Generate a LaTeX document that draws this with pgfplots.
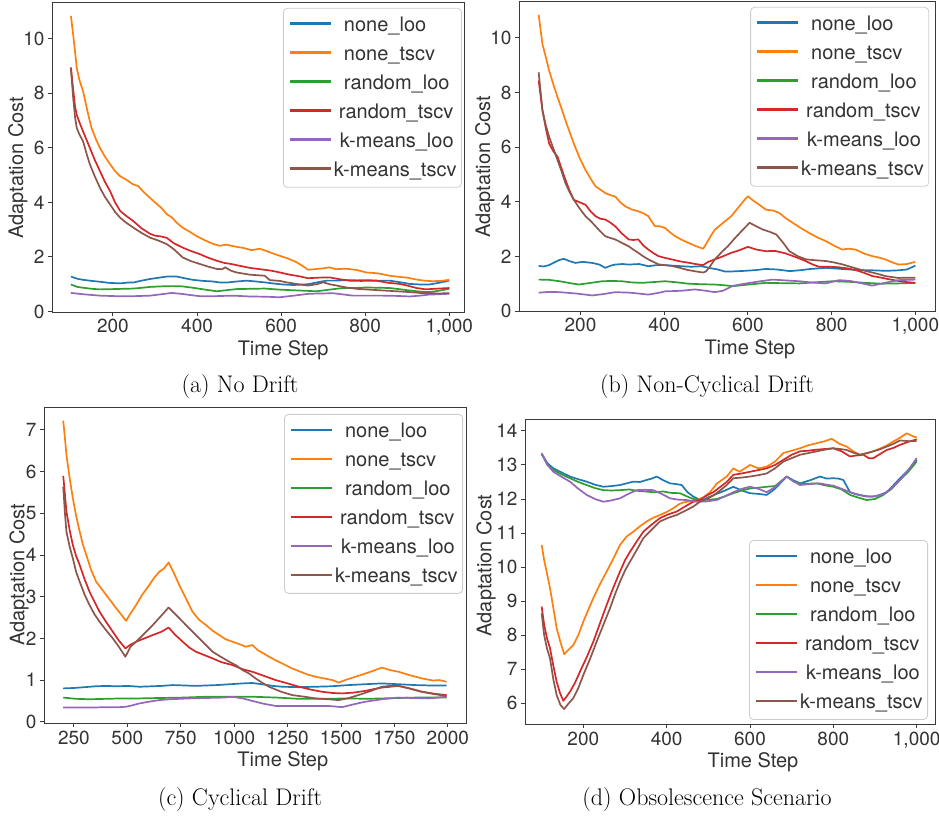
\documentclass[border=0pt]{standalone}
\usepackage{fontspec}
\usepackage{pgfplots}
\pgfplotsset{compat=1.18}
\newfontfamily\heros{TeX Gyre Heros}
\definecolor{C0}{HTML}{1F77B4}
\definecolor{C1}{HTML}{FF7F0E}
\definecolor{C2}{HTML}{2CA02C}
\definecolor{C3}{HTML}{D62728}
\definecolor{C4}{HTML}{9467BD}
\definecolor{C5}{HTML}{8C564B}
\definecolor{axgray}{HTML}{3A3A3A}
\definecolor{txtgray}{HTML}{333333}
\definecolor{leggray}{HTML}{CCCCCC}
\newcommand{\tickfont}{\heros\fontsize{19bp}{22bp}\selectfont}
\newcommand{\labfont}{\heros\fontsize{20bp}{24bp}\selectfont}
\pgfplotsset{
  panel/.style={
    scale only axis,
    axis line style={draw=axgray, line width=1bp},
    tick style={draw=axgray, line width=1bp},
    tick align=outside, major tick length=4bp,
    xtick pos=bottom, ytick pos=left,
    /pgf/number format/assume math mode=true,
    tick label style={font=\tickfont, text=txtgray},
    legend cell align=left,
    legend style={font=\labfont, text=txtgray,
      draw=leggray, line width=0.8bp, rounded corners=4bp, fill=white, fill opacity=0.8, text opacity=1, draw opacity=1,
      inner xsep=5bp, inner ysep=3.5bp, row sep=2bp, column sep=2bp,
      nodes={inner sep=0pt, text height=20bp, text depth=7bp}},
    legend image code/.code={\draw[#1, line width=2.6bp, line cap=butt] (0bp,1.5bp) -- (41bp,1.5bp);},
    every axis plot/.append style={line width=1.7bp, line join=round},
    xlabel={Time Step}, ylabel={Adaptation Cost},
  }
}
\newcommand{\legs}{%
  \addlegendentry{\hspace*{10bp}none\_loo}
  \addlegendentry{\hspace*{10bp}none\_tscv}
  \addlegendentry{\hspace*{10bp}random\_loo}
  \addlegendentry{\hspace*{5bp}random\_tscv}
  \addlegendentry{\hspace*{6bp}k-means\_loo}
  \addlegendentry{k-means\_tscv}}
\begin{document}
\begin{tikzpicture}
\path[use as bounding box] (0bp,0bp) rectangle (939bp,-819bp);
% ---------------- (a) No Drift
\begin{axis}[panel, at={(52bp,-312bp)}, anchor=south west, width=412bp, height=310bp,
  xmin=55, xmax=1035, ymin=-0.02, ymax=11.35,
  xtick={200,400,600,800,1000}, xticklabels={200,400,600,800,{1,000}},
  ytick={0,2,4,6,8,10}, yticklabels={0,2,4,6,8,10},
  every axis x label/.style={at={(axis description cs:0.561,-0.123)}, anchor=center, font=\labfont, text=txtgray},
  every axis y label/.style={at={(axis description cs:-0.083,0.465)}, rotate=90, anchor=center, font=\labfont, text=txtgray},
  legend style={at={(axis description cs:0.995,0.981)}, anchor=north east}]
\addplot[C0] coordinates {(100,1.28)(115,1.2)(129,1.16)(150,1.12)(169,1.09)(190,1.05)(217,1.03)(235,1.06)(248,1.06)(265,1.12)(288,1.19)(310,1.24)(328,1.28)(352,1.28)(370,1.22)(390,1.16)(415,1.12)(438,1.1)(455,1.06)(470,1.06)(495,1.1)(518,1.13)(540,1.1)(565,1.06)(585,1.02)(604,0.99)(630,0.97)(664,1.0)(690,1.08)(708,1.13)(730,1.13)(755,1.15)(780,1.14)(803,1.15)(830,1.13)(858,1.13)(880,1.08)(906,1.01)(930,0.99)(953,0.99)(975,1.05)(1000,1.13)};
\addplot[C1] coordinates {(100,10.84)(105,10.2)(110,9.5)(114,8.92)(120,8.5)(129,8.07)(140,7.3)(149,6.73)(160,6.3)(169,6.0)(180,5.7)(193,5.4)(205,5.15)(217,4.96)(230,4.85)(248,4.66)(260,4.6)(275,4.35)(288,4.17)(300,4.0)(315,3.8)(328,3.57)(340,3.45)(352,3.25)(366,3.07)(380,2.95)(395,2.8)(407,2.7)(420,2.6)(438,2.48)(454,2.41)(470,2.45)(494,2.37)(510,2.33)(530,2.25)(549,2.30)(565,2.22)(580,2.13)(597,2.04)(615,1.95)(635,1.82)(650,1.68)(664,1.53)(680,1.55)(700,1.58)(715,1.62)(730,1.55)(755,1.57)(780,1.52)(803,1.43)(830,1.40)(858,1.31)(880,1.27)(900,1.24)(922,1.17)(940,1.13)(960,1.11)(980,1.12)(1000,1.16)};
\addplot[C2] coordinates {(100,0.99)(115,0.9)(129,0.87)(150,0.83)(169,0.81)(200,0.82)(248,0.84)(270,0.87)(288,0.9)(315,0.92)(340,0.93)(365,0.92)(390,0.87)(420,0.8)(447,0.74)(470,0.78)(494,0.82)(525,0.83)(561,0.84)(597,0.80)(640,0.77)(684,0.74)(715,0.8)(747,0.86)(775,0.86)(803,0.88)(830,0.87)(858,0.86)(880,0.82)(906,0.77)(930,0.73)(953,0.71)(975,0.76)(1000,0.83)};
\addplot[C3] coordinates {(100,8.95)(105,8.2)(110,7.5)(114,7.2)(120,6.95)(129,6.6)(137,6.3)(145,6.0)(157,5.55)(169,5.15)(181,4.75)(193,4.42)(205,4.0)(217,3.69)(232,3.5)(248,3.32)(268,3.05)(288,2.85)(300,2.78)(315,2.75)(328,2.7)(345,2.5)(366,2.34)(385,2.22)(407,2.1)(425,1.98)(447,1.86)(465,1.78)(478,1.75)(500,1.68)(525,1.6)(550,1.55)(575,1.5)(597,1.43)(620,1.35)(640,1.3)(664,1.22)(690,1.24)(715,1.25)(740,1.18)(763,1.13)(790,1.12)(826,1.13)(855,1.05)(882,1.01)(900,0.95)(922,0.86)(940,0.82)(953,0.82)(975,0.84)(1000,0.86)};
\addplot[C4] coordinates {(100,0.68)(130,0.63)(169,0.58)(210,0.56)(248,0.56)(288,0.58)(315,0.63)(340,0.68)(366,0.64)(385,0.6)(407,0.56)(440,0.56)(486,0.58)(525,0.55)(565,0.54)(596,0.52)(630,0.58)(667,0.65)(700,0.66)(723,0.67)(750,0.62)(771,0.58)(800,0.58)(842,0.58)(875,0.57)(906,0.55)(930,0.58)(953,0.62)(975,0.63)(1000,0.65)};
\addplot[C5] coordinates {(100,8.9)(105,7.9)(110,7.1)(114,6.73)(120,6.5)(129,6.24)(137,5.8)(145,5.4)(157,4.95)(169,4.54)(181,4.2)(193,3.93)(205,3.65)(217,3.44)(232,3.25)(248,3.08)(268,2.88)(288,2.71)(308,2.6)(328,2.47)(345,2.28)(366,1.98)(385,1.85)(407,1.74)(425,1.65)(447,1.56)(460,1.55)(467,1.62)(480,1.5)(494,1.43)(525,1.35)(561,1.31)(573,1.15)(597,1.12)(612,1.07)(640,1.0)(664,0.95)(685,1.0)(700,1.07)(715,1.0)(732,0.95)(755,0.88)(780,0.83)(810,0.8)(842,0.77)(875,0.74)(906,0.71)(930,0.68)(953,0.67)(975,0.66)(1000,0.67)};
\legs
\end{axis}
% ---------------- (b) Non-Cyclical Drift
\begin{axis}[panel, at={(519bp,-311bp)}, anchor=south west, width=416bp, height=310bp,
  xmin=53, xmax=1047, ymin=0, ymax=11.35,
  xtick={200,400,600,800,1000}, xticklabels={200,400,600,800,{1,000}},
  ytick={0,2,4,6,8,10}, yticklabels={0,2,4,6,8,10},
  every axis x label/.style={at={(axis description cs:0.555,-0.124)}, anchor=center, font=\labfont, text=txtgray},
  every axis y label/.style={at={(axis description cs:-0.082,0.465)}, rotate=90, anchor=center, font=\labfont, text=txtgray},
  legend style={at={(axis description cs:0.986,0.981)}, anchor=north east}]
\addplot[C0] coordinates {(100,1.65)(112,1.63)(125,1.68)(140,1.8)(150,1.87)(160,1.91)(175,1.82)(188,1.76)(205,1.8)(228,1.76)(245,1.7)(259,1.58)(272,1.66)(283,1.7)(300,1.72)(315,1.7)(340,1.72)(362,1.64)(382,1.68)(402,1.68)(420,1.66)(441,1.64)(465,1.62)(489,1.64)(510,1.57)(528,1.52)(544,1.45)(564,1.45)(592,1.47)(620,1.5)(643,1.54)(670,1.52)(700,1.46)(723,1.49)(750,1.54)(786,1.58)(815,1.55)(841,1.52)(870,1.5)(897,1.49)(930,1.47)(960,1.49)(980,1.52)(1000,1.66)};
\addplot[C1] coordinates {(100,10.84)(109,9.77)(117,9.3)(125,8.8)(135,8.3)(145,7.83)(155,7.4)(164,6.98)(174,6.55)(184,6.13)(198,5.6)(212,5.16)(224,4.85)(236,4.56)(247,4.45)(259,4.32)(270,4.25)(283,4.19)(295,3.98)(307,3.83)(322,3.72)(338,3.65)(350,3.58)(362,3.47)(370,3.28)(378,3.1)(390,3.1)(402,3.04)(414,2.88)(426,2.74)(440,2.62)(457,2.5)(475,2.38)(493,2.28)(500,2.45)(510,2.72)(521,2.98)(540,3.22)(560,3.47)(575,3.75)(592,4.07)(600,4.2)(612,4.05)(628,3.88)(643,3.71)(660,3.68)(675,3.59)(690,3.4)(707,3.23)(725,3.05)(746,2.86)(765,2.7)(786,2.56)(805,2.4)(825,2.25)(840,2.28)(857,2.25)(878,2.1)(897,2.01)(912,1.96)(928,1.89)(945,1.78)(960,1.7)(980,1.72)(1000,1.8)};
\addplot[C2] coordinates {(100,1.15)(125,1.14)(150,1.09)(175,1.02)(196,0.97)(220,1.02)(252,1.09)(275,1.1)(299,1.09)(320,1.05)(346,1.03)(375,1.06)(402,1.09)(430,1.05)(457,1.0)(490,0.98)(520,0.97)(545,0.94)(564,0.91)(590,0.95)(615,0.99)(643,1.03)(680,1.02)(723,1.01)(760,1.05)(802,1.09)(840,1.07)(881,1.03)(920,1.0)(960,1.01)(1000,1.03)};
\addplot[C3] coordinates {(100,8.44)(109,7.35)(117,6.7)(125,6.13)(135,5.85)(145,5.65)(155,5.2)(164,4.8)(174,4.4)(184,4.07)(198,3.98)(212,3.89)(224,3.65)(236,3.47)(247,3.38)(259,3.35)(270,3.25)(283,3.1)(298,2.85)(315,2.62)(326,2.6)(338,2.62)(350,2.4)(362,2.25)(374,2.12)(386,2.01)(400,1.95)(418,1.89)(437,1.82)(457,1.77)(475,1.72)(493,1.68)(505,1.8)(521,1.89)(540,2.0)(560,2.13)(575,2.2)(592,2.3)(600,2.35)(620,2.25)(643,2.19)(665,2.2)(690,2.11)(715,1.97)(738,1.83)(755,1.7)(770,1.62)(795,1.62)(818,1.6)(838,1.56)(857,1.5)(877,1.4)(897,1.28)(912,1.24)(928,1.19)(945,1.14)(960,1.1)(980,1.06)(1000,1.03)};
\addplot[C4] coordinates {(100,0.67)(125,0.7)(150,0.69)(190,0.64)(228,0.57)(255,0.62)(283,0.69)(320,0.67)(362,0.6)(385,0.66)(402,0.72)(440,0.74)(473,0.79)(500,0.74)(520,0.69)(540,0.74)(564,0.92)(585,0.98)(604,1.03)(630,1.09)(659,1.15)(690,1.12)(723,1.09)(755,1.04)(786,1.01)(818,1.13)(845,1.1)(870,1.02)(897,0.93)(930,1.04)(960,1.13)(1000,1.15)};
\addplot[C5] coordinates {(100,8.74)(109,7.35)(117,6.8)(125,6.38)(135,5.95)(145,5.53)(155,5.1)(164,4.68)(174,4.35)(184,4.07)(198,3.75)(212,3.47)(224,3.3)(236,3.1)(247,2.92)(259,2.74)(270,2.68)(283,2.62)(298,2.5)(315,2.37)(326,2.25)(338,2.13)(350,2.0)(362,1.89)(374,1.8)(386,1.71)(400,1.68)(418,1.65)(437,1.58)(457,1.5)(475,1.45)(493,1.41)(500,1.45)(510,1.65)(521,1.89)(540,2.2)(552,2.37)(565,2.6)(580,2.85)(592,3.04)(604,3.23)(620,3.1)(636,2.98)(652,2.9)(668,2.8)(684,2.5)(699,2.19)(720,2.0)(739,1.89)(760,1.86)(786,1.83)(805,1.78)(825,1.71)(845,1.62)(865,1.53)(880,1.47)(897,1.41)(912,1.35)(928,1.28)(945,1.24)(960,1.21)(980,1.22)(1000,1.22)};
\legs
\end{axis}
% ---------------- (c) Cyclical Drift
\begin{axis}[panel, at={(44bp,-723bp)}, anchor=south west, width=422bp, height=316bp,
  xmin=110, xmax=2085, ymin=-0.03, ymax=7.55,
  xtick={250,500,750,1000,1250,1500,1750,2000}, xticklabels={250,500,750,1000,1250,1500,1750,2000},
  ytick={0,1,2,3,4,5,6,7}, yticklabels={0,1,2,3,4,5,6,7},
  every axis x label/.style={at={(axis description cs:0.566,-0.122)}, anchor=center, font=\labfont, text=txtgray},
  every axis y label/.style={at={(axis description cs:-0.059,0.47)}, rotate=90, anchor=center, font=\labfont, text=txtgray},
  legend style={at={(axis description cs:0.993,0.978)}, anchor=north east}]
\addplot[C0] coordinates {(200,0.8)(250,0.81)(300,0.83)(350,0.85)(401,0.86)(450,0.85)(500,0.86)(557,0.84)(610,0.85)(660,0.86)(713,0.88)(770,0.87)(820,0.86)(868,0.87)(920,0.88)(980,0.9)(1040,0.92)(1085,0.93)(1130,0.9)(1180,0.86)(1225,0.84)(1300,0.83)(1381,0.84)(1450,0.85)(1536,0.88)(1610,0.9)(1691,0.92)(1770,0.9)(1847,0.88)(1920,0.87)(1994,0.87)};
\addplot[C1] coordinates {(200,7.22)(208,6.8)(215,6.4)(230,5.85)(245,5.36)(260,4.95)(277,4.56)(292,4.25)(308,4.0)(330,3.65)(354,3.36)(378,3.2)(401,3.04)(425,2.88)(448,2.72)(470,2.58)(494,2.42)(515,2.6)(541,2.8)(570,3.05)(603,3.28)(625,3.45)(650,3.6)(672,3.68)(693,3.82)(715,3.6)(743,3.28)(775,2.95)(805,2.64)(835,2.45)(868,2.32)(900,2.18)(930,2.08)(960,1.98)(992,1.92)(1025,1.86)(1054,1.8)(1085,1.84)(1110,1.72)(1140,1.63)(1163,1.56)(1200,1.46)(1240,1.36)(1271,1.28)(1310,1.2)(1345,1.13)(1381,1.08)(1420,1.04)(1460,1.0)(1489,0.94)(1520,1.0)(1567,1.08)(1610,1.15)(1650,1.22)(1691,1.3)(1730,1.24)(1769,1.2)(1820,1.12)(1878,1.04)(1930,0.99)(1960,1.0)(1994,0.96)};
\addplot[C2] coordinates {(200,0.58)(260,0.55)(323,0.54)(400,0.55)(480,0.56)(557,0.56)(650,0.57)(760,0.58)(868,0.6)(980,0.6)(1085,0.6)(1200,0.58)(1303,0.55)(1420,0.55)(1536,0.56)(1620,0.55)(1691,0.56)(1770,0.57)(1847,0.58)(1920,0.58)(1994,0.58)};
\addplot[C3] coordinates {(200,5.9)(208,5.45)(215,5.04)(230,4.6)(245,4.24)(260,3.98)(277,3.76)(300,3.42)(323,3.12)(346,2.88)(370,2.64)(400,2.4)(432,2.16)(460,1.95)(491,1.76)(515,1.85)(541,1.92)(580,2.0)(619,2.08)(660,2.16)(693,2.26)(725,2.08)(759,1.92)(790,1.78)(821,1.68)(860,1.6)(899,1.52)(940,1.43)(992,1.36)(1040,1.26)(1085,1.2)(1140,1.1)(1194,1.0)(1250,0.92)(1303,0.84)(1360,0.77)(1411,0.72)(1460,0.69)(1505,0.68)(1560,0.7)(1613,0.74)(1650,0.78)(1691,0.82)(1730,0.84)(1769,0.86)(1820,0.8)(1878,0.72)(1940,0.67)(1994,0.64)};
\addplot[C4] coordinates {(200,0.34)(260,0.34)(330,0.34)(400,0.35)(460,0.35)(494,0.36)(520,0.39)(557,0.44)(600,0.48)(650,0.52)(700,0.54)(790,0.56)(870,0.57)(950,0.58)(992,0.6)(1040,0.56)(1085,0.5)(1140,0.43)(1194,0.38)(1250,0.38)(1300,0.38)(1381,0.38)(1440,0.38)(1505,0.35)(1560,0.42)(1613,0.48)(1691,0.54)(1769,0.58)(1840,0.57)(1909,0.56)(1994,0.6)};
\addplot[C5] coordinates {(200,5.64)(208,5.0)(215,4.56)(230,4.2)(245,3.92)(260,3.6)(277,3.36)(300,3.05)(323,2.8)(346,2.58)(370,2.4)(400,2.2)(432,2.0)(460,1.8)(491,1.56)(515,1.8)(541,1.92)(580,2.12)(619,2.32)(660,2.55)(693,2.74)(725,2.58)(759,2.4)(790,2.24)(821,2.08)(860,1.88)(899,1.68)(940,1.55)(977,1.44)(1010,1.35)(1039,1.24)(1069,1.16)(1100,1.04)(1130,0.94)(1163,0.84)(1220,0.72)(1271,0.64)(1330,0.6)(1381,0.56)(1440,0.54)(1489,0.52)(1530,0.56)(1582,0.64)(1640,0.74)(1691,0.84)(1730,0.86)(1769,0.86)(1820,0.8)(1878,0.72)(1940,0.66)(1994,0.62)};
\legs
\end{axis}
% ---------------- (d) Obsolescence Scenario
\begin{axis}[panel, at={(525bp,-724bp)}, anchor=south west, width=410bp, height=305bp,
  xmin=60, xmax=1044, ymin=5.39, ymax=14.35,
  xtick={200,400,600,800,1000}, xticklabels={200,400,600,800,{1,000}},
  ytick={6,7,8,9,10,11,12,13,14}, yticklabels={6,7,8,9,10,11,12,13,14},
  every axis x label/.style={at={(axis description cs:0.556,-0.124)}, anchor=center, font=\labfont, text=txtgray},
  every axis y label/.style={at={(axis description cs:-0.095,0.52)}, rotate=90, anchor=center, font=\labfont, text=txtgray},
  legend style={at={(axis description cs:0.983,0.603)}, anchor=north east}]
\addplot[C0] coordinates {(100,13.32)(114,13.05)(128,12.9)(148,12.78)(168,12.66)(188,12.58)(208,12.51)(228,12.42)(248,12.36)(268,12.38)(288,12.41)(304,12.46)(320,12.51)(336,12.5)(352,12.56)(364,12.6)(376,12.66)(392,12.55)(408,12.46)(422,12.44)(436,12.41)(450,12.2)(464,12.07)(476,12.0)(488,11.97)(500,12.05)(520,12.15)(540,12.25)(560,12.36)(580,12.25)(600,12.17)(620,12.15)(640,12.12)(660,12.3)(688,12.66)(704,12.55)(720,12.46)(744,12.55)(768,12.66)(784,12.6)(800,12.61)(812,12.6)(824,12.56)(840,12.2)(852,12.15)(864,12.12)(880,12.08)(896,12.07)(912,12.12)(928,12.2)(944,12.4)(960,12.61)(980,12.85)(1000,13.15)};
\addplot[C1] coordinates {(100,10.65)(106,10.2)(113,9.8)(120,9.38)(128,8.8)(136,8.2)(145,7.8)(154,7.44)(165,7.58)(176,7.71)(188,8.0)(200,8.4)(212,8.75)(224,9.09)(240,9.5)(256,9.87)(272,10.25)(288,10.65)(304,10.9)(320,11.04)(336,11.2)(352,11.34)(368,11.45)(384,11.53)(400,11.62)(416,11.73)(430,11.85)(440,11.9)(456,11.93)(472,11.97)(488,12.05)(504,12.2)(520,12.45)(544,12.66)(560,12.9)(575,12.8)(600,13.0)(620,12.9)(640,12.95)(660,13.1)(680,13.35)(700,13.42)(720,13.49)(740,13.58)(760,13.64)(780,13.7)(796,13.77)(815,13.62)(832,13.54)(848,13.4)(864,13.3)(884,13.35)(904,13.44)(925,13.55)(944,13.69)(960,13.8)(976,13.93)(990,13.85)(1000,13.8)};
\addplot[C2] coordinates {(100,13.32)(114,13.0)(128,12.85)(148,12.72)(168,12.61)(188,12.5)(208,12.41)(228,12.32)(248,12.26)(268,12.25)(288,12.26)(310,12.28)(330,12.24)(350,12.22)(368,12.2)(392,12.22)(410,12.18)(432,12.17)(448,12.08)(464,12.0)(480,11.97)(500,11.98)(520,12.0)(540,12.08)(560,12.17)(580,12.25)(600,12.31)(620,12.33)(640,12.36)(660,12.38)(688,12.66)(704,12.52)(720,12.46)(740,12.45)(760,12.46)(780,12.4)(800,12.36)(820,12.28)(840,12.12)(860,12.04)(880,11.97)(900,12.0)(920,12.12)(940,12.3)(960,12.56)(980,12.8)(1000,13.1)};
\addplot[C3] coordinates {(100,8.84)(106,8.3)(113,7.9)(120,7.62)(128,7.1)(136,6.63)(144,6.3)(152,6.07)(160,6.2)(168,6.34)(180,6.6)(192,6.93)(208,7.35)(224,7.81)(240,8.35)(256,8.89)(272,9.4)(288,9.87)(300,10.2)(312,10.45)(328,10.75)(344,11.04)(364,11.25)(384,11.44)(404,11.55)(424,11.63)(444,11.78)(464,11.92)(480,11.97)(496,12.1)(512,12.2)(528,12.35)(544,12.5)(560,12.71)(580,12.75)(600,12.8)(620,12.85)(640,12.9)(660,13.0)(680,13.15)(700,13.3)(720,13.4)(740,13.42)(760,13.45)(780,13.47)(800,13.49)(820,13.4)(840,13.25)(856,13.28)(872,13.3)(885,13.2)(896,13.2)(912,13.32)(928,13.44)(944,13.5)(960,13.59)(980,13.68)(1000,13.75)};
\addplot[C4] coordinates {(100,13.35)(114,13.0)(128,12.8)(148,12.65)(168,12.51)(188,12.3)(208,12.12)(228,12.0)(248,11.92)(268,11.96)(288,12.02)(308,12.15)(328,12.26)(348,12.27)(368,12.26)(388,12.15)(408,12.02)(428,11.98)(448,11.97)(472,11.92)(496,11.93)(520,11.97)(540,12.08)(560,12.2)(580,12.3)(600,12.36)(620,12.3)(640,12.2)(660,12.35)(688,12.66)(704,12.52)(720,12.41)(744,12.44)(768,12.46)(784,12.42)(800,12.39)(820,12.3)(840,12.2)(860,12.12)(880,12.07)(900,12.08)(920,12.14)(940,12.32)(960,12.56)(980,12.85)(1000,13.2)};
\addplot[C5] coordinates {(100,8.64)(106,8.0)(113,7.6)(120,7.32)(128,6.7)(136,6.24)(145,5.95)(154,5.83)(165,6.0)(176,6.15)(188,6.45)(200,6.83)(216,7.3)(232,7.81)(248,8.3)(264,8.79)(276,9.2)(288,9.57)(300,9.9)(312,10.16)(328,10.5)(344,10.85)(364,11.1)(384,11.34)(404,11.45)(424,11.53)(444,11.65)(464,11.78)(480,11.92)(496,12.0)(512,12.1)(528,12.25)(544,12.41)(560,12.61)(580,12.63)(600,12.66)(620,12.7)(640,12.75)(660,12.9)(680,13.1)(700,13.2)(720,13.3)(740,13.35)(760,13.4)(780,13.45)(800,13.49)(816,13.47)(832,13.44)(848,13.36)(864,13.3)(880,13.35)(896,13.4)(912,13.46)(928,13.54)(944,13.62)(960,13.72)(980,13.7)(1000,13.7)};
\legs
\end{axis}
% ---------------- captions
\node[font=\fontsize{24bp}{28bp}\selectfont, anchor=center] at (240bp,-387bp) {(a) No Drift};
\node[font=\fontsize{24bp}{28bp}\selectfont, anchor=center] at (707bp,-387bp) {(b) Non-Cyclical Drift};
\node[font=\fontsize{24bp}{28bp}\selectfont, anchor=center] at (240bp,-800bp) {(c) Cyclical Drift};
\node[font=\fontsize{24bp}{28bp}\selectfont, anchor=center] at (707bp,-800bp) {(d) Obsolescence Scenario};
\end{tikzpicture}
\end{document}
